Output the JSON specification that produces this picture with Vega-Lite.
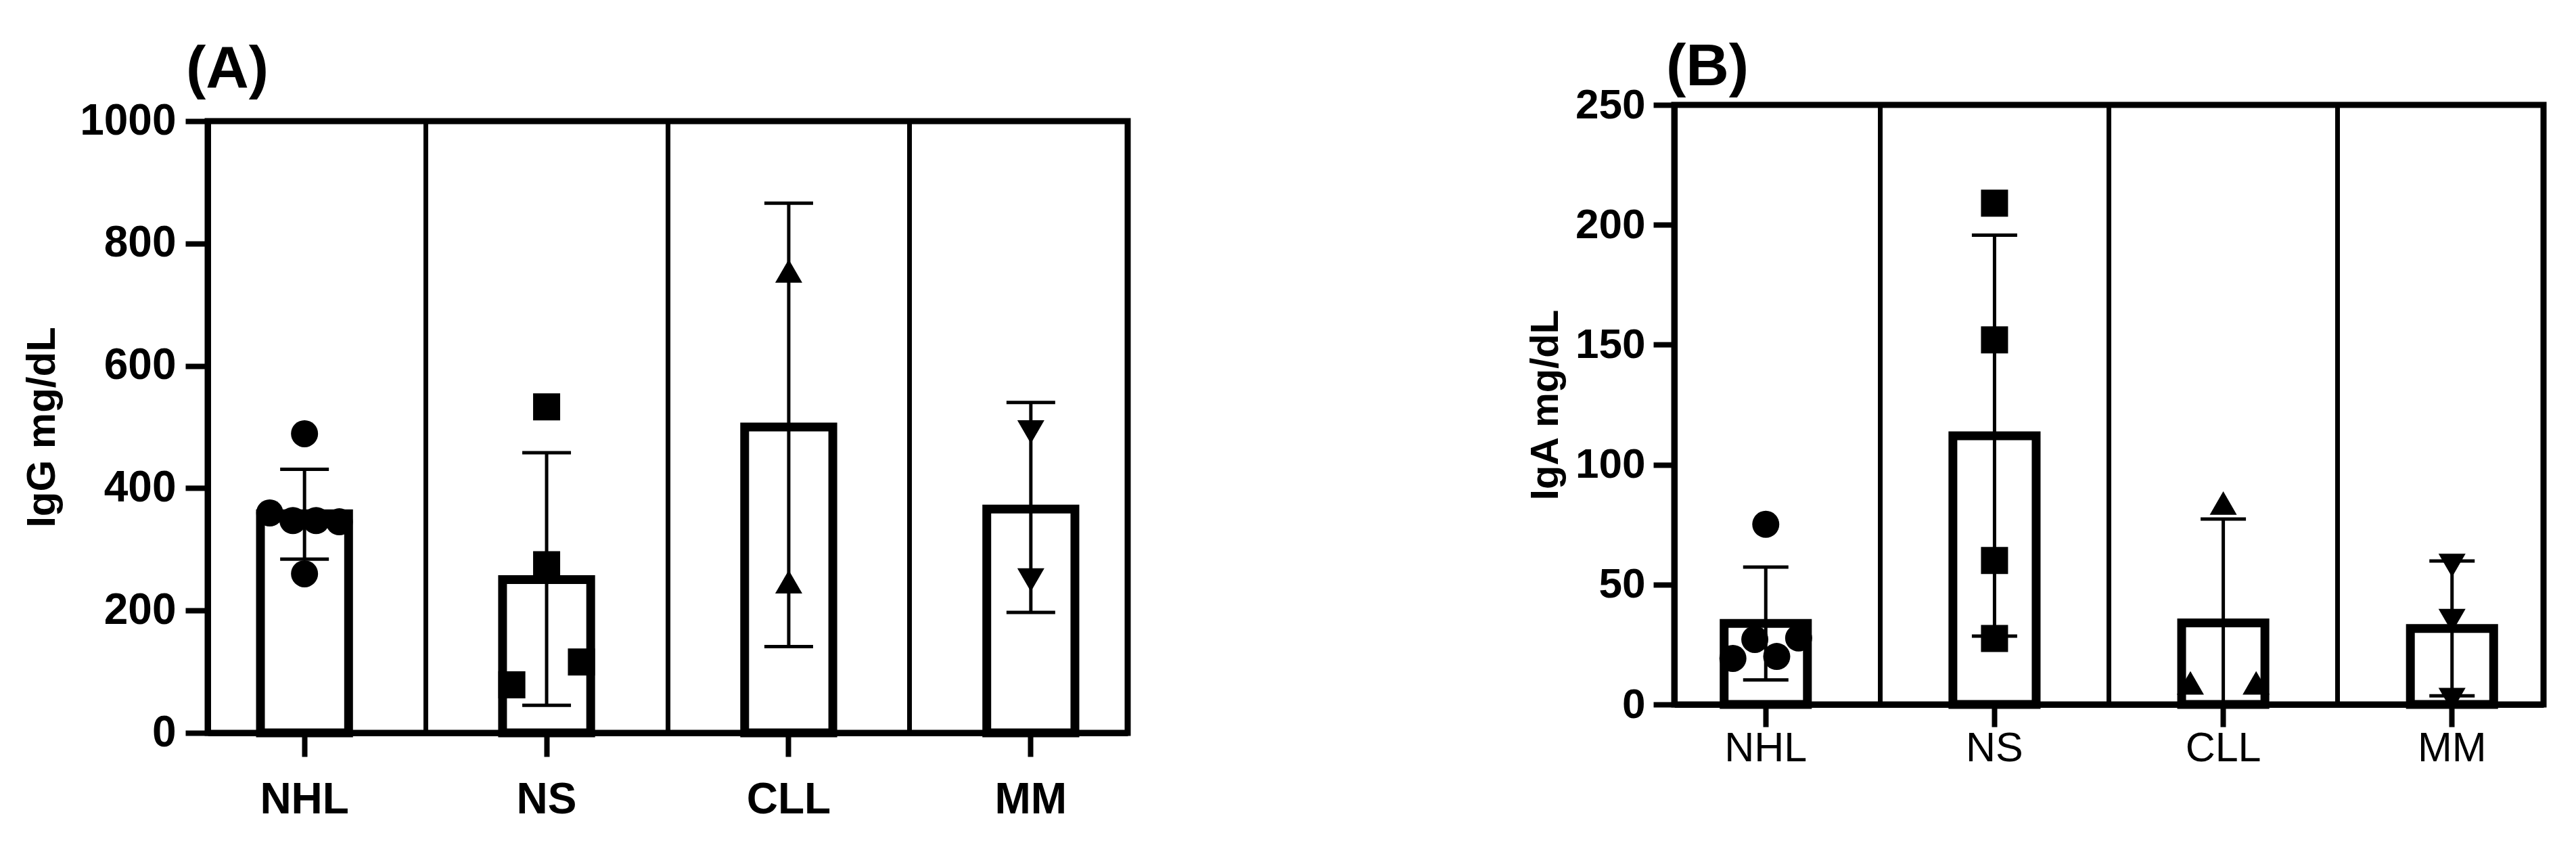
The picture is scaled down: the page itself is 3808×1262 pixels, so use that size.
{
  "$schema": "https://vega.github.io/schema/vega-lite/v6.json",
  "background": "white",
  "padding": {"left": 28, "top": 50, "right": 10, "bottom": 10},
  "spacing": 580,
  "datasets": {
    "igg_points": [
      {"group": "NHL", "value": 489, "slot": 0},
      {"group": "NHL", "value": 359.5, "slot": -1.5},
      {"group": "NHL", "value": 347, "slot": -0.5},
      {"group": "NHL", "value": 347, "slot": 0.5},
      {"group": "NHL", "value": 345, "slot": 1.5},
      {"group": "NHL", "value": 260, "slot": 0},
      {"group": "NS", "value": 533, "slot": 0},
      {"group": "NS", "value": 275, "slot": 0},
      {"group": "NS", "value": 78.5, "slot": -1.5},
      {"group": "NS", "value": 116, "slot": 1.5},
      {"group": "CLL", "value": 755, "slot": 0},
      {"group": "CLL", "value": 247, "slot": 0},
      {"group": "MM", "value": 492, "slot": 0},
      {"group": "MM", "value": 250, "slot": 0}
    ],
    "igg_summary": [
      {"group": "NHL", "mean": 358, "lo": 284, "hi": 431},
      {"group": "NS", "mean": 250.6, "lo": 45, "hi": 458},
      {"group": "CLL", "mean": 500, "lo": 141, "hi": 866},
      {"group": "MM", "mean": 366, "lo": 197, "hi": 540}
    ],
    "iga_points": [
      {"group": "NHL", "value": 75.1, "slot": 0},
      {"group": "NHL", "value": 19.2, "slot": -1.5},
      {"group": "NHL", "value": 27.1, "slot": -0.5},
      {"group": "NHL", "value": 20, "slot": 0.5},
      {"group": "NHL", "value": 27.7, "slot": 1.5},
      {"group": "NS", "value": 209, "slot": 0},
      {"group": "NS", "value": 152, "slot": 0},
      {"group": "NS", "value": 60, "slot": 0},
      {"group": "NS", "value": 27.5, "slot": 0},
      {"group": "CLL", "value": 84, "slot": 0},
      {"group": "CLL", "value": 9, "slot": -1.5},
      {"group": "CLL", "value": 9, "slot": 1.5},
      {"group": "MM", "value": 58, "slot": 0},
      {"group": "MM", "value": 35, "slot": 0},
      {"group": "MM", "value": 2, "slot": 0}
    ],
    "iga_summary": [
      {"group": "NHL", "mean": 33.8, "lo": 10.2, "hi": 57.3},
      {"group": "NS", "mean": 112, "lo": 28.5, "hi": 195.7},
      {"group": "CLL", "mean": 34, "lo": -9.3, "hi": 77.3},
      {"group": "MM", "mean": 31.7, "lo": 3.6, "hi": 59.8}
    ]
  },
  "config": {
    "font": "Liberation Sans",
    "view": {"stroke": "black", "strokeWidth": 9},
    "axis": {
      "grid": false,
      "domainColor": "black",
      "domainWidth": 9,
      "tickColor": "black",
      "tickWidth": 8,
      "labelColor": "black",
      "titleColor": "black",
      "labelFont": "Liberation Sans",
      "titleFont": "Liberation Sans"
    },
    "title": {"font": "Liberation Sans", "color": "black"}
  },
  "hconcat": [
    {
      "spacing": 0,
      "vconcat": [
        {
          "width": 10,
          "height": 4,
          "data": {"values": []},
          "mark": {"type": "point", "opacity": 0},
          "encoding": {},
          "view": {"stroke": null}
        },
        {
          "width": 1360,
          "height": 904,
          "title": {"text": "(A)", "anchor": "start", "frame": "group", "fontSize": 88, "fontWeight": "bold", "offset": 0, "dx": -32},
          "resolve": {"scale": {"x": "independent", "xOffset": "independent"}, "axis": {"x": "independent"}},
          "layer": [
            {
              "data": {"name": "igg_points"},
              "mark": {"type": "point", "filled": true, "opacity": 1, "color": "black", "size": 1600},
              "encoding": {
                "x": {"field": "group", "type": "nominal", "sort": ["NHL", "NS", "CLL", "MM"], "scale": {"paddingInner": 0.636, "paddingOuter": 0.218},
                  "axis": {"orient": "top", "title": null, "labels": false, "ticks": false, "domain": false, "grid": true, "gridColor": "black", "gridWidth": 7, "gridOpacity": 1, "bandPosition": 1.874, "values": ["NHL", "NS", "CLL"]}},
                "xOffset": {"field": "slot", "type": "quantitative", "scale": {"domain": [-1.9, 1.9]}},
                "y": {"field": "value", "type": "quantitative", "scale": {"domain": [0, 1000], "nice": false}},
                "shape": {"field": "group", "type": "nominal", "legend": null, "scale": {"domain": ["NHL", "NS", "CLL", "MM"], "range": ["circle", "square", "triangle-up", "triangle-down"]}}
              }
            },
            {
              "layer": [
                {
                  "data": {"name": "igg_summary"},
                  "mark": {"type": "bar", "fill": "transparent", "stroke": "black", "strokeWidth": 13},
                  "encoding": {
                    "x": {
                      "field": "group", "type": "nominal", "sort": ["NHL", "NS", "CLL", "MM"],
                      "scale": {"paddingInner": 0.636, "paddingOuter": 0.218},
                      "axis": {"title": null, "labelAngle": 0, "labelFontSize": 64, "labelFontWeight": "bold", "tickSize": 35, "labelPadding": 32}
                    },
                    "y": {
                      "field": "mean", "type": "quantitative",
                      "scale": {"domain": [0, 1000], "nice": false},
                      "axis": {"title": "IgG mg/dL", "values": [0, 200, 400, 600, 800, 1000], "format": "d", "labelFontSize": 64, "labelFontWeight": "bold", "tickSize": 33, "labelPadding": 14, "titleFontSize": 60, "titleFontWeight": "bold", "titlePadding": 24}
                    }
                  }
                },
                {
                  "data": {"name": "igg_summary"},
                  "mark": {"type": "rule", "strokeWidth": 5, "color": "black", "clip": true},
                  "encoding": {
                    "x": {"field": "group", "type": "nominal", "sort": ["NHL", "NS", "CLL", "MM"]},
                    "y": {"field": "lo", "type": "quantitative"},
                    "y2": {"field": "hi"}
                  }
                },
                {
                  "data": {"name": "igg_summary"},
                  "mark": {"type": "tick", "orient": "horizontal", "size": 72, "thickness": 5, "color": "black", "opacity": 1, "clip": true},
                  "encoding": {
                    "x": {"field": "group", "type": "nominal", "sort": ["NHL", "NS", "CLL", "MM"]},
                    "y": {"field": "hi", "type": "quantitative"}
                  }
                },
                {
                  "data": {"name": "igg_summary"},
                  "mark": {"type": "tick", "orient": "horizontal", "size": 72, "thickness": 5, "color": "black", "opacity": 1, "clip": true},
                  "encoding": {
                    "x": {"field": "group", "type": "nominal", "sort": ["NHL", "NS", "CLL", "MM"]},
                    "y": {"field": "lo", "type": "quantitative"}
                  }
                }
              ]
            }
          ]
        }
      ]
    },
    {
      "spacing": 0,
      "vconcat": [
        {
          "width": 10,
          "height": 1,
          "data": {"values": []},
          "mark": {"type": "point", "opacity": 0},
          "encoding": {},
          "view": {"stroke": null}
        },
        {
          "width": 1285,
          "height": 886,
          "title": {"text": "(B)", "anchor": "start", "frame": "group", "fontSize": 88, "fontWeight": "bold", "offset": -20, "dx": -12},
          "resolve": {"scale": {"x": "independent", "xOffset": "independent"}, "axis": {"x": "independent"}},
          "layer": [
            {
              "data": {"name": "iga_points"},
              "mark": {"type": "point", "filled": true, "opacity": 1, "color": "black", "size": 1600},
              "encoding": {
                "x": {"field": "group", "type": "nominal", "sort": ["NHL", "NS", "CLL", "MM"], "scale": {"paddingInner": 0.636, "paddingOuter": 0.218},
                  "axis": {"orient": "top", "title": null, "labels": false, "ticks": false, "domain": false, "grid": true, "gridColor": "black", "gridWidth": 7, "gridOpacity": 1, "bandPosition": 1.874, "values": ["NHL", "NS", "CLL"]}},
                "xOffset": {"field": "slot", "type": "quantitative", "scale": {"domain": [-1.9, 1.9]}},
                "y": {"field": "value", "type": "quantitative", "scale": {"domain": [0, 250], "nice": false}},
                "shape": {"field": "group", "type": "nominal", "legend": null, "scale": {"domain": ["NHL", "NS", "CLL", "MM"], "range": ["circle", "square", "triangle-up", "triangle-down"]}}
              }
            },
            {
              "layer": [
                {
                  "data": {"name": "iga_summary"},
                  "mark": {"type": "bar", "fill": "transparent", "stroke": "black", "strokeWidth": 13},
                  "encoding": {
                    "x": {
                      "field": "group", "type": "nominal", "sort": ["NHL", "NS", "CLL", "MM"],
                      "scale": {"paddingInner": 0.636, "paddingOuter": 0.218},
                      "axis": {"title": null, "labelAngle": 0, "labelFontSize": 61, "labelFontWeight": "normal", "tickSize": 33, "labelPadding": 2}
                    },
                    "y": {
                      "field": "mean", "type": "quantitative",
                      "scale": {"domain": [0, 250], "nice": false},
                      "axis": {"title": "IgA mg/dL", "values": [0, 50, 100, 150, 200, 250], "format": "d", "labelFontSize": 62, "labelFontWeight": "bold", "tickSize": 31, "labelPadding": 12, "titleFontSize": 58, "titleFontWeight": "bold", "titlePadding": 14}
                    }
                  }
                },
                {
                  "data": {"name": "iga_summary"},
                  "mark": {"type": "rule", "strokeWidth": 5, "color": "black", "clip": true},
                  "encoding": {
                    "x": {"field": "group", "type": "nominal", "sort": ["NHL", "NS", "CLL", "MM"]},
                    "y": {"field": "lo", "type": "quantitative"},
                    "y2": {"field": "hi"}
                  }
                },
                {
                  "data": {"name": "iga_summary"},
                  "mark": {"type": "tick", "orient": "horizontal", "size": 67, "thickness": 5, "color": "black", "opacity": 1, "clip": true},
                  "encoding": {
                    "x": {"field": "group", "type": "nominal", "sort": ["NHL", "NS", "CLL", "MM"]},
                    "y": {"field": "hi", "type": "quantitative"}
                  }
                },
                {
                  "data": {"name": "iga_summary"},
                  "mark": {"type": "tick", "orient": "horizontal", "size": 67, "thickness": 5, "color": "black", "opacity": 1, "clip": true},
                  "encoding": {
                    "x": {"field": "group", "type": "nominal", "sort": ["NHL", "NS", "CLL", "MM"]},
                    "y": {"field": "lo", "type": "quantitative"}
                  }
                }
              ]
            }
          ]
        }
      ]
    }
  ]
}
